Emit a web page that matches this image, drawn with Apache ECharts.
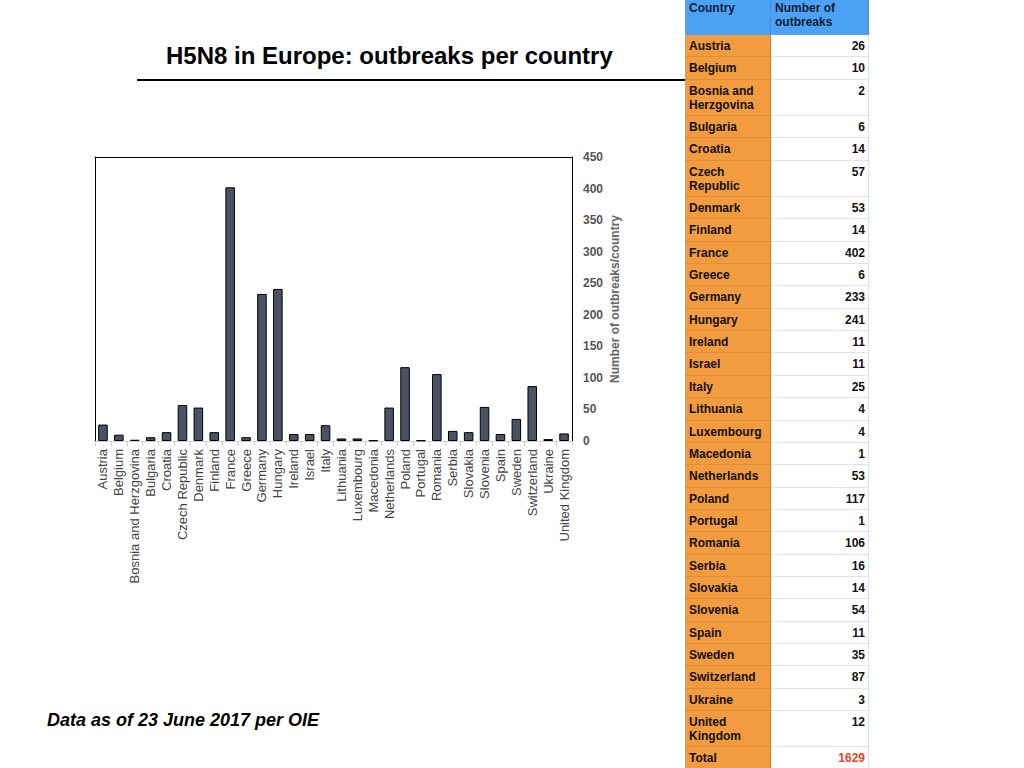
<!DOCTYPE html>
<html>
<head>
<meta charset="utf-8">
<script src="https://cdn.jsdelivr.net/npm/echarts@6/dist/echarts.min.js"></script>
<style>
  html, body { margin:0; padding:0; background:#fff; }
  #chart { position:absolute; left:0; top:0; width:1024px; height:768px; }
  #table { position:absolute; left:685px; top:0; width:184px; font-family:"Liberation Sans", Arial, sans-serif; font-weight:bold; font-size:12px; color:#111; z-index:2; }
  .row { display:flex; }
  .c1 { width:86px; box-sizing:border-box; padding:4px 4px 4.35px 4px; line-height:14px; background:#f29b3f; box-shadow: inset -1px 0 0 #c97f33, inset 0 -1px 0 #e08d38; }
  .c2 { width:98px; box-sizing:border-box; padding:4px 4px 4.35px 4px; line-height:14px; background:#fff; text-align:right; box-shadow: inset -1px 0 0 #e3e3e3, inset 0 -1px 0 #e3e3e3; }
  .head .c1, .head .c2 { background:#4ea2f5; color:#0b1d36; text-align:left; height:35px; padding-top:1px; box-shadow: inset -1px 0 0 #3f8fe0; }
  .total .c2 { color:#e2452b; }
</style>
</head>
<body>
<div id="chart"></div>
<div id="table"></div>
<script>
const countries = ["Austria","Belgium","Bosnia and Herzgovina","Bulgaria","Croatia","Czech Republic","Denmark","Finland","France","Greece","Germany","Hungary","Ireland","Israel","Italy","Lithuania","Luxembourg","Macedonia","Netherlands","Poland","Portugal","Romania","Serbia","Slovakia","Slovenia","Spain","Sweden","Switzerland","Ukraine","United Kingdom"];
const outbreaks = [26,10,2,6,14,57,53,14,402,6,233,241,11,11,25,4,4,1,53,117,1,106,16,14,54,11,35,87,3,12];
const tableHeader = ["Country","Number of outbreaks"];
const totalLabel = "Total";
const totalValue = 1629;
const titleText = "H5N8 in Europe: outbreaks per country";
const footText = "Data as of 23 June 2017 per OIE";
const yAxisName = "Number of outbreaks/country";
const yMin = 0, yMax = 450, yStep = 50;

// table
const tbl = document.getElementById('table');
let html = '<div class="row head"><div class="c1">' + tableHeader[0] + '</div><div class="c2">' + tableHeader[1] + '</div></div>';
countries.forEach((c, i) => {
  html += '<div class="row"><div class="c1">' + c + '</div><div class="c2">' + outbreaks[i] + '</div></div>';
});
html += '<div class="row total"><div class="c1">' + totalLabel + '</div><div class="c2">' + totalValue + '</div></div>';
tbl.innerHTML = html;

const FONT = '"Liberation Sans", Arial, sans-serif';
const chart = echarts.init(document.getElementById('chart'), null, {renderer:'svg'});
chart.setOption({
  animation: false,
  textStyle: { fontFamily: FONT },
  grid: { left: 95, top: 157, width: 477, height: 284, containLabel: false },
  xAxis: [
    { type:'category', data: countries, gridIndex:0,
      axisLine:{ show:true, onZero:false, lineStyle:{ color:'#cfcfcf', width:1 } },
      axisTick:{ show:true, length:5, lineStyle:{ color:'#cfcfcf' } },
      axisLabel:{ rotate:90, interval:0, fontSize:13, color:'#444', margin:8, fontFamily: FONT },
      splitLine:{ show:false } },
    { type:'category', data: countries, position:'top', gridIndex:0,
      axisLine:{ show:true, onZero:false, lineStyle:{ color:'#000', width:1 } },
      axisTick:{ show:false }, axisLabel:{ show:false }, splitLine:{ show:false } }
  ],
  yAxis: [
    { type:'value', position:'right', min:yMin, max:yMax, interval:yStep,
      axisLine:{ show:true, onZero:false, lineStyle:{ color:'#000', width:1 } },
      axisTick:{ show:false }, splitLine:{ show:false },
      axisLabel:{ margin:11, color:'#555', fontWeight:'bold', fontSize:12, fontFamily: FONT },
      name: yAxisName, nameLocation:'middle', nameGap:37, nameRotate:90,
      nameTextStyle:{ color:'#666', fontWeight:'bold', fontSize:12, fontFamily: FONT } },
    { type:'value', position:'left', min:yMin, max:yMax, interval:yStep,
      axisLine:{ show:true, onZero:false, lineStyle:{ color:'#000', width:1 } },
      axisTick:{ show:false }, axisLabel:{ show:false }, splitLine:{ show:false } }
  ],
  series: [{
    type:'bar', data: outbreaks, xAxisIndex:0, yAxisIndex:0, barWidth:'60%',
    itemStyle:{ color:'#4a5264', borderColor:'#000', borderWidth:1 }
  }],
  graphic: [
    { type:'text', left:166, top:43, style:{ text: titleText, font:'bold 24px ' + FONT, fill:'#000' } },
    { type:'line', shape:{ x1:137, y1:80, x2:686, y2:80 }, style:{ stroke:'#000', lineWidth:2 } },
    { type:'text', left:47, top:711, style:{ text: footText, font:'italic bold 18px ' + FONT, fill:'#000' } }
  ]
});
</script>
</body>
</html>
